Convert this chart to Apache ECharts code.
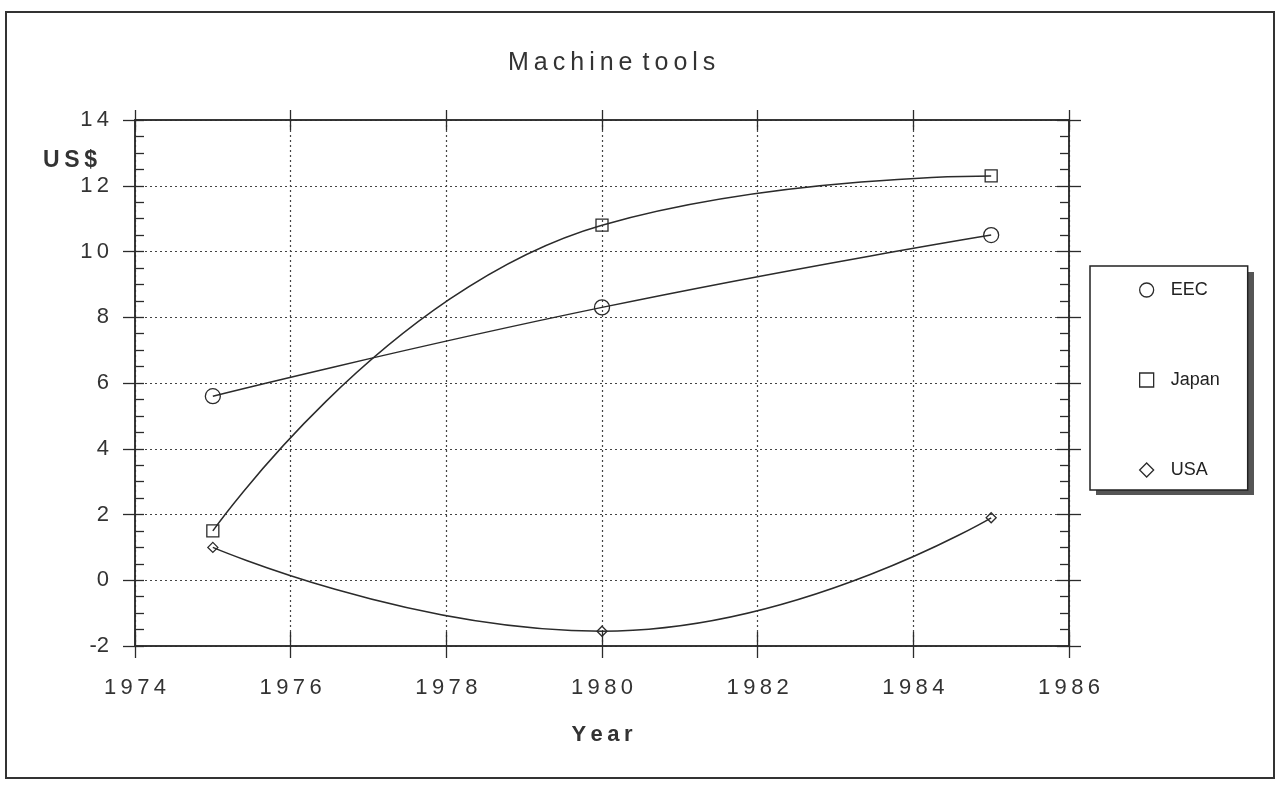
<!DOCTYPE html>
<html>
<head>
<meta charset="utf-8">
<title>Machine tools</title>
<script src="https://cdn.jsdelivr.net/npm/echarts@6/dist/echarts.min.js"></script>
<style>
html, body { margin: 0; padding: 0; background: #fff; }
#chart { width: 1279px; height: 786px; }
</style>
</head>
<body>
<div id="chart"></div>
<script>
var years = [1975, 1980, 1985];
var eec = [5.6, 8.3, 10.5];
var japan = [1.5, 10.8, 12.3];
var usa = [1.0, -1.55, 1.9];
var seriesNames = ['EEC', 'Japan', 'USA'];

var ink = '#2b2b2b';
var font = 'Liberation Sans, Arial, Helvetica, sans-serif';

// old plotter type looks letter spaced
function spaced(s) {
	return String(s).split('').join('\u2009');
}

function numLabel(v) {
	return v < 0 ? '-' + spaced(-v) : spaced(v);
}

function pairs(vals) {
	var out = [];
	for (var i = 0; i < years.length; i++) {
		out.push([years[i], vals[i]]);
	}
	return out;
}

function xAx(pos, inside, len, labels) {
	return {
		type: 'value', position: pos, min: 1974, max: 1986, interval: 2,
		axisLine: { show: true, onZero: false, lineStyle: { color: ink, width: 1.5 } },
		axisTick: { show: true, inside: inside, length: len, lineStyle: { color: ink, width: 1.3 } },
		axisLabel: labels ? {
			show: true, margin: 31, color: '#333', fontFamily: font, fontSize: 22,
			formatter: numLabel
		} : { show: false },
		splitLine: { show: false }
	};
}

function yAx(pos, inside, len, labels, minor) {
	return {
		type: 'value', position: pos, min: -2, max: 14, interval: 2,
		axisLine: { show: true, onZero: false, lineStyle: { color: ink, width: 1.5 } },
		axisTick: { show: true, inside: inside, length: len, lineStyle: { color: ink, width: 1.3 } },
		minorTick: { show: minor, splitNumber: 4, length: 9, lineStyle: { color: ink, width: 1.3 } },
		axisLabel: labels ? {
			show: true, margin: 26, color: '#333', fontFamily: font, fontSize: 22,
			formatter: numLabel
		} : { show: false },
		splitLine: { show: false }
	};
}

var xMain = xAx('bottom', false, 12, true);
xMain.splitLine = { show: true, lineStyle: { color: '#444', width: 1.2, type: [2, 3] } };
xMain.name = spaced('Year');
xMain.nameLocation = 'middle';
xMain.nameGap = 78;
xMain.nameTextStyle = { color: '#333', fontFamily: font, fontSize: 22, fontWeight: 'bold' };

var yMain = yAx('left', true, 9, true, true);
yMain.splitLine = { show: true, lineStyle: { color: '#444', width: 1.2, type: [2, 3] } };

var markers = ['circle', 'rect', 'diamond'];
var sizes = [15, 12, 10];
var allData = [eec, japan, usa];
var series = [];
var legendData = [];
for (var k = 0; k < allData.length; k++) {
	series.push({
		name: seriesNames[k],
		type: 'line',
		smooth: true,
		xAxisIndex: 0,
		yAxisIndex: 0,
		symbol: markers[k],
		symbolSize: sizes[k],
		showAllSymbol: true,
		lineStyle: { color: ink, width: 1.5 },
		itemStyle: { color: 'rgba(255,255,255,0)', borderColor: ink, borderWidth: 1.3 },
		emphasis: { disabled: true },
		data: pairs(allData[k])
	});
	legendData.push({
		name: seriesNames[k],
		icon: markers[k],
		itemStyle: { color: '#fff', borderColor: ink, borderWidth: 1.3 }
	});
}

var option = {
	backgroundColor: '#fff',
	animation: false,
	title: [
		{ text: spaced('Machine') + '\u2009\u2009' + spaced('tools'), left: 503, top: 46,
		  textStyle: { color: '#333', fontFamily: font, fontSize: 25, fontWeight: 'normal' } },
		{ text: spaced('US$'), left: 38, top: 144,
		  textStyle: { color: '#333', fontFamily: font, fontSize: 23, fontWeight: 'bold' } }
	],
	legend: {
		orient: 'vertical',
		left: 1090, top: 266,
		padding: [15, 28, 11, 49],
		itemGap: 72,
		itemWidth: 14, itemHeight: 14,
		backgroundColor: '#fff',
		borderColor: '#222', borderWidth: 1.5,
		lineStyle: { width: 0, opacity: 0 },
		textStyle: { color: '#222', fontFamily: font, fontSize: 18, padding: [0, 0, 0, 12] },
		data: legendData
	},
	grid: { left: 135, right: 210, top: 120, bottom: 140, containLabel: false, outerBoundsMode: 'none' },
	xAxis: [xMain, xAx('bottom', true, 14, false), xAx('top', false, 10, false), xAx('top', true, 10, false)],
	yAxis: [yMain, yAx('left', false, 12, false, false), yAx('right', true, 12, false, true), yAx('right', false, 12, false, false)],
	graphic: [{
		type: 'rect', z: -10,
		shape: { x: 6, y: 12, width: 1268, height: 766 },
		style: { fill: 'none', stroke: '#333', lineWidth: 2 }
	}, {
		// drop shadow behind the legend box
		type: 'rect', z: -5,
		shape: { x: 1096, y: 272, width: 158, height: 223 },
		style: { fill: '#555' }
	}],
	series: series
};

var myChart = echarts.init(document.getElementById('chart'));
myChart.setOption(option);
</script>
</body>
</html>
